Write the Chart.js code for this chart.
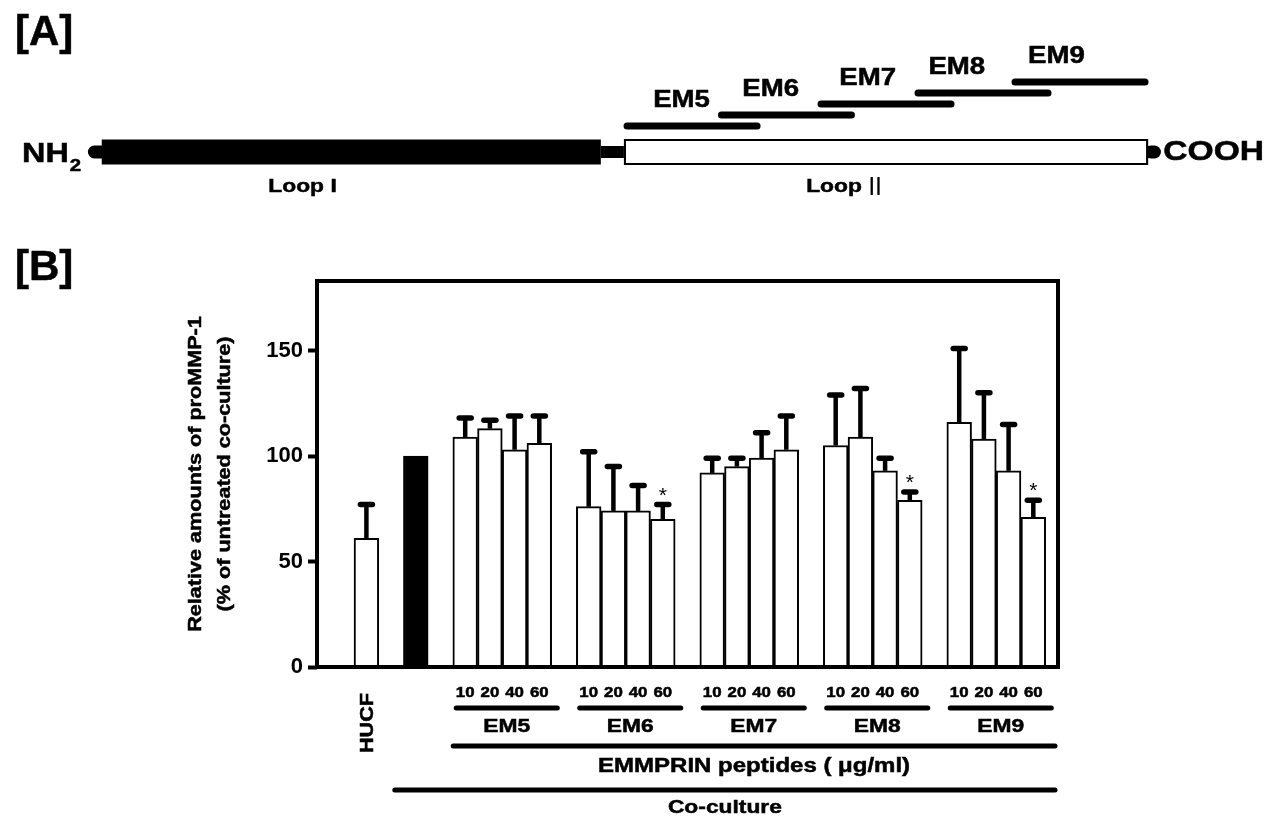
<!DOCTYPE html>
<html lang="en">
<head>
  <meta charset="UTF-8" />
  <title>EMMPRIN peptides and proMMP-1</title>
  <script src="https://cdn.jsdelivr.net/npm/chart.js"></script>
  <style>
    html, body { margin: 0; padding: 0; background: #fff; }
    .wrap { position: relative; width: 1274px; height: 818px; }
    canvas { position: absolute; left: 0; top: 0; }
  </style>
</head>
<body>
  <div class="wrap">
    <canvas id="chartB" width="1274" height="818"></canvas>
    <canvas id="chartA" width="1274" height="240"></canvas>
  </div>

  <script>
    // ---- panel B data ----
    const groups = ['EM5', 'EM6', 'EM7', 'EM8', 'EM9'];
    const doses = ['10', '20', '40', '60'];
    const controls = ['HUCF', 'Co-culture'];
    const controlMean = [61, 100];
    const controlSD = [16, 0];
    const em5Mean = [109, 113, 103, 106];
    const em5SD = [9, 4, 16, 13];
    const em6Mean = [76, 74, 74, 70];
    const em6SD = [26, 21, 12, 7];
    const em7Mean = [92, 95, 99, 103];
    const em7SD = [7, 4, 12, 16];
    const em8Mean = [105, 109, 93, 79];
    const em8SD = [24, 23, 6, 4];
    const em9Mean = [116, 108, 93, 71];
    const em9SD = [35, 22, 22, 8];
    const starred = ['EM6 60', 'EM8 60', 'EM9 60'];
    const yTicks = [0, 50, 100, 150];

    // ---- panel A data (schematic, arbitrary units, Loop II = 0..100) ----
    const peptides = ['EM5', 'EM6', 'EM7', 'EM8', 'EM9'];
    const peptideStart = [0, 18, 37, 55.5, 74];
    const peptideEnd = [26, 44, 63, 81.5, 100];
    const loopOne = [-99.6, -4.4];
    const loopTwo = [0, 100];

    const SANS = '"Liberation Sans", Arial, Helvetica, sans-serif';

    function txt(ctx, s, x, y, o) {
      o = o || {};
      const weight = o.weight || 'bold';
      ctx.save();
      ctx.translate(x, y);
      if (o.rot) ctx.rotate(o.rot);
      ctx.scale(o.sx || 1.2, 1);
      ctx.font = weight + ' ' + o.size + 'px ' + (o.family || SANS);
      ctx.textAlign = o.align || 'center';
      ctx.textBaseline = o.base || 'middle';
      ctx.fillStyle = '#000';
      ctx.fillText(s, 0, 0);
      if (weight === 'bold') {
        // slightly heavier strokes, like the original print
        ctx.strokeStyle = '#000';
        ctx.lineWidth = 0.5;
        ctx.strokeText(s, 0, 0);
      }
      ctx.restore();
    }
    function textW(ctx, s, size, sx, weight, family) {
      ctx.save();
      ctx.font = (weight || 'bold') + ' ' + size + 'px ' + (family || SANS);
      const w = ctx.measureText(s).width * (sx || 1.2);
      ctx.restore();
      return w;
    }
    function hline(ctx, x1, x2, y, w) {
      ctx.save();
      ctx.strokeStyle = '#000';
      ctx.lineWidth = w;
      ctx.lineCap = 'round';
      ctx.beginPath();
      ctx.moveTo(x1, y);
      ctx.lineTo(x2, y);
      ctx.stroke();
      ctx.restore();
    }

    // build the slot list: spacer slots give the gaps between groups
    const slotLabels = ['', '', controls[0], '', controls[1], ''];
    const slotMean = [null, null, controlMean[0], null, controlMean[1], null];
    const slotSD = [null, null, controlSD[0], null, controlSD[1], null];
    const slotGroup = [-1, -1, -1, -1, -1, -1];
    const groupMeans = [em5Mean, em6Mean, em7Mean, em8Mean, em9Mean];
    const groupSDs = [em5SD, em6SD, em7SD, em8SD, em9SD];
    groups.forEach((g, gi) => {
      doses.forEach((d, di) => {
        slotLabels.push(g + ' ' + d);
        slotMean.push(groupMeans[gi][di]);
        slotSD.push(groupSDs[gi][di]);
        slotGroup.push(gi);
      });
      slotLabels.push('');
      slotMean.push(null);
      slotSD.push(null);
      slotGroup.push(-1);
    });
    const slotColor = slotLabels.map(l => l === 'Co-culture' ? '#000' : '#fff');

    const errorBars = {
      id: 'errorBars',
      afterDatasetsDraw(chart) {
        const ctx = chart.ctx;
        const meta = chart.getDatasetMeta(0);
        const y = chart.scales.y;
        slotMean.forEach((m, i) => {
          if (m == null) return;
          const x = meta.data[i].x;
          const sd = slotSD[i];
          const yTop = y.getPixelForValue(m + sd);
          if (sd > 0) {
            ctx.save();
            ctx.strokeStyle = '#000';
            ctx.lineWidth = 4.5;
            ctx.beginPath();
            ctx.moveTo(x, y.getPixelForValue(m));
            ctx.lineTo(x, yTop);
            ctx.stroke();
            ctx.restore();
            hline(ctx, x - 6, x + 6, yTop, 5.5);
          }
          if (starred.includes(slotLabels[i])) {
            txt(ctx, '*', x, yTop - 3, { size: 21, weight: 'normal', base: 'alphabetic', sx: 1 });
          }
        });
      }
    };

    const annotationsB = {
      id: 'annotationsB',
      afterDraw(chart) {
        const ctx = chart.ctx;
        const a = chart.chartArea;
        const meta = chart.getDatasetMeta(0);
        const b = a.bottom;

        // frame
        ctx.save();
        ctx.strokeStyle = '#000';
        ctx.lineWidth = 4;
        ctx.strokeRect(a.left, a.top, a.right - a.left, a.bottom - a.top);
        ctx.restore();

        txt(ctx, '[B]', 15, 268, { size: 42, align: 'left', sx: 1 });

        const cy = (a.top + a.bottom) / 2;
        txt(ctx, 'Relative amounts of proMMP-1', a.left - 121, cy, { size: 18, rot: -Math.PI / 2 });
        txt(ctx, '(% of untreated co-culture)', a.left - 92, cy, { size: 18, rot: -Math.PI / 2 });

        // dose labels and group brackets
        groups.forEach((g, gi) => {
          const idx = slotGroup.map((v, i) => v === gi ? i : -1).filter(i => i >= 0);
          idx.forEach((i, di) => txt(ctx, doses[di], meta.data[i].x, b + 26, { size: 14 }));
          const x1 = meta.data[idx[0]].x - 9;
          const x2 = meta.data[idx[idx.length - 1]].x + 18;
          hline(ctx, x1, x2, b + 41, 5);
          txt(ctx, g, (x1 + x2) / 2, b + 60, { size: 19 });
        });

        const first = meta.data[slotGroup.indexOf(0)].x - 12;
        hline(ctx, first, a.right - 3, b + 79, 5);
        txt(ctx, 'EMMPRIN peptides ( \u03bcg/ml)', (first + a.right - 3) / 2, b + 99, { size: 20 });

        const coX = meta.data[slotLabels.indexOf('Co-culture')].x - 21;
        hline(ctx, coX, a.right - 3, b + 123, 5);
        txt(ctx, 'Co-culture', (coX + a.right - 3) / 2, b + 141, { size: 19 });

        const hx = meta.data[slotLabels.indexOf('HUCF')].x + 2;
        txt(ctx, 'HUCF', hx, b + 56, { size: 18, rot: -Math.PI / 2 });
      }
    };

    new Chart(document.getElementById('chartB'), {
      type: 'bar',
      data: {
        labels: slotLabels,
        datasets: [{
          data: slotMean,
          backgroundColor: slotColor,
          borderColor: '#000',
          borderWidth: 2,
          barPercentage: 1,
          categoryPercentage: 1
        }]
      },
      options: {
        responsive: false,
        animation: false,
        devicePixelRatio: 1,
        layout: { padding: { left: 0, right: 216, top: 281, bottom: 151 } },
        plugins: { legend: { display: false }, tooltip: { enabled: false } },
        scales: {
          x: { type: 'category', offset: false, display: false, grid: { offset: false } },
          y: {
            min: 0,
            max: 183,
            afterFit(s) { s.width = 317; },
            afterBuildTicks(s) { s.ticks = yTicks.map(v => ({ value: v })); },
            ticks: { color: '#000', padding: 5, font: { family: SANS, size: 22, weight: 'bold' } },
            grid: { drawOnChartArea: false, drawTicks: true, tickLength: 9, tickWidth: 4, tickColor: '#000' },
            border: { display: false }
          }
        }
      },
      plugins: [errorBars, annotationsB]
    });

    // ---- panel A: protein schematic drawn as line segments on linear scales ----
    const PROT_Y = 0;
    const PEP_Y0 = 2.36;
    function seg(x1, x2, yv, color, width, cap, order) {
      return {
        data: [{ x: x1, y: yv }, { x: x2, y: yv }],
        borderColor: color,
        borderWidth: width,
        borderCapStyle: cap,
        pointRadius: 0,
        fill: false,
        order: order
      };
    }
    const segsA = [
      seg(-101, -99, PROT_Y, '#000', 13, 'round', 9),
      seg(loopOne[0], loopOne[1], PROT_Y, '#000', 25, 'butt', 5),
      seg(loopOne[1], loopTwo[0], PROT_Y, '#000', 12, 'butt', 6),
      seg(100.5, 101.2, PROT_Y, '#000', 13, 'round', 9),
      seg(loopTwo[0], loopTwo[1], PROT_Y, '#000', 26, 'butt', 4),
      seg(loopTwo[0] + 0.4, loopTwo[1] - 0.4, PROT_Y, '#fff', 22, 'butt', 3)
    ];
    peptides.forEach((p, i) => {
      segsA.push(seg(peptideStart[i] + 0.6, peptideEnd[i] - 0.6, PEP_Y0 + i, '#000', 7, 'round', 1));
    });
    const peptideLabelX = [11, 28, 46.5, 63.5, 82.5];

    const annotationsA = {
      id: 'annotationsA',
      afterDraw(chart) {
        const ctx = chart.ctx;
        const x = chart.scales.x, y = chart.scales.y;
        txt(ctx, '[A]', 15, 33, { size: 42, align: 'left', sx: 1 });

        const py = y.getPixelForValue(PROT_Y);
        txt(ctx, 'NH', 22, py + 10, { size: 27, align: 'left', base: 'alphabetic' });
        const nhW = textW(ctx, 'NH', 27);
        txt(ctx, '2', 22 + nhW + 1, py + 19, { size: 17, align: 'left', base: 'alphabetic' });
        txt(ctx, 'COOH', x.getPixelForValue(102.3) + 3, py, { size: 28, align: 'left' });

        const ly = py + 35;
        txt(ctx, 'Loop I', x.getPixelForValue(-61.3), ly, { size: 19 });
        const w1 = textW(ctx, 'Loop ', 19);
        const w2 = textW(ctx, 'II', 25, 1, 'normal');
        const lx = x.getPixelForValue(42) - (w1 + w2) / 2;
        txt(ctx, 'Loop ', lx, ly, { size: 19, align: 'left' });
        txt(ctx, 'II', lx + w1, ly + 1, { size: 25, align: 'left', weight: 'normal', sx: 1 });

        peptides.forEach((p, i) => {
          txt(ctx, p, x.getPixelForValue(peptideLabelX[i]), y.getPixelForValue(PEP_Y0 + i) - 25, { size: 23 });
        });
      }
    };

    new Chart(document.getElementById('chartA'), {
      type: 'line',
      data: { datasets: segsA },
      options: {
        responsive: false,
        animation: false,
        devicePixelRatio: 1,
        layout: { padding: { left: 21, right: 0, top: 42, bottom: 55 } },
        plugins: { legend: { display: false }, tooltip: { enabled: false } },
        scales: {
          x: { type: 'linear', min: -115, max: 124, display: false },
          y: { type: 'linear', min: -3, max: 10, display: false }
        }
      },
      plugins: [annotationsA]
    });
  </script>
</body>
</html>
